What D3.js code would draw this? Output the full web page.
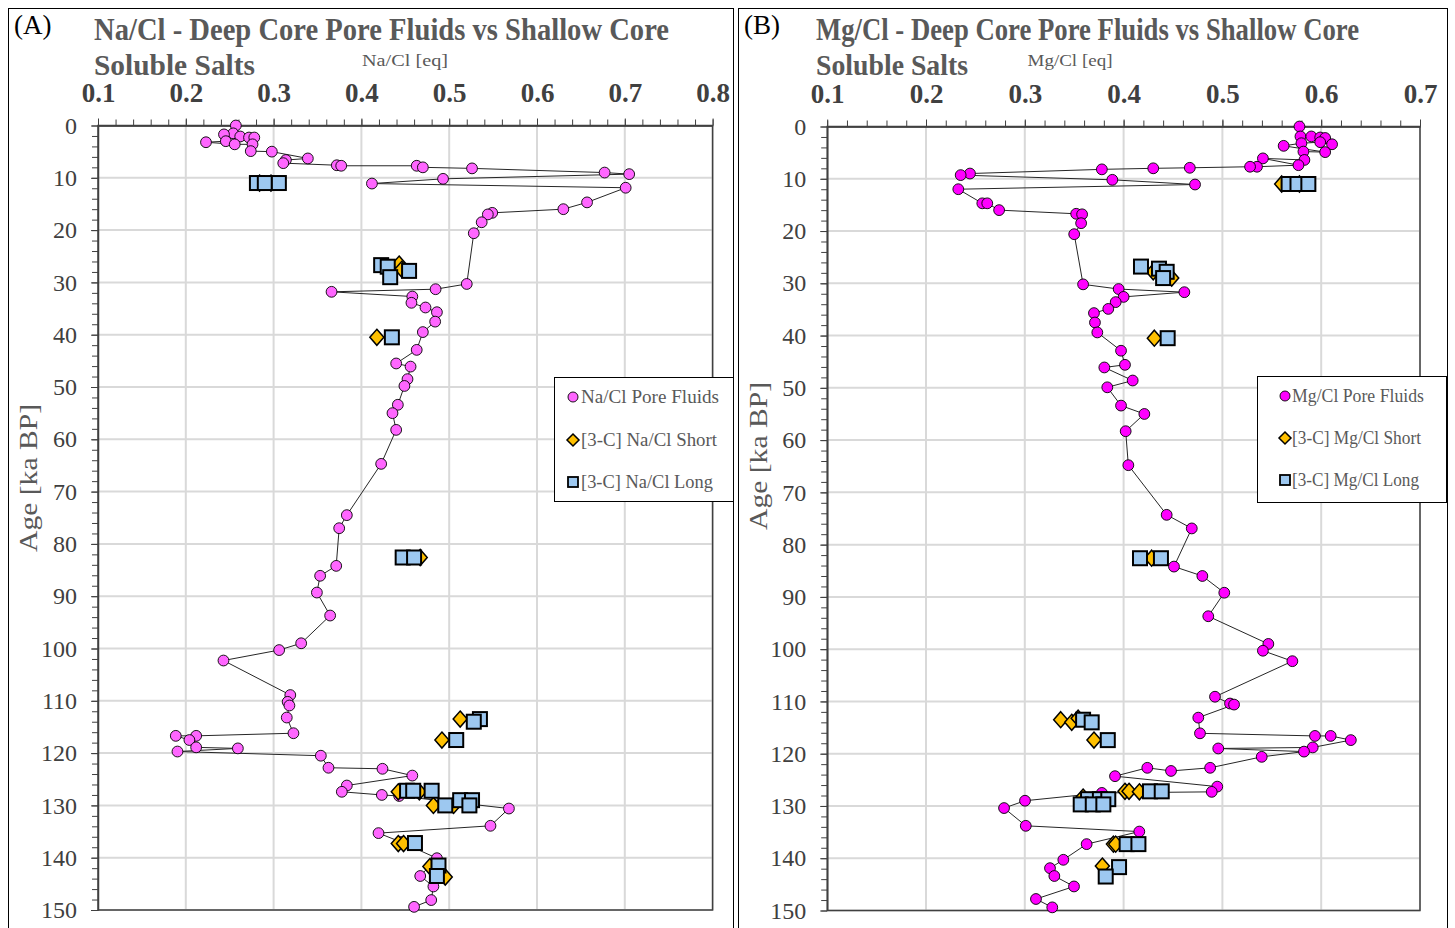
<!DOCTYPE html>
<html>
<head>
<meta charset="utf-8">
<script src="https://d3js.org/d3.v7.min.js"></script>
<style>
body { margin: 0; background: #fff; }
svg { font-family: "Liberation Serif", serif; }
.grid line { stroke: #d9d9d9; stroke-width: 2; }
.axis path, .axis line { stroke: #404040; }
.axis text { fill: #404040; font-family: "Liberation Serif", serif; }
</style>
</head>
<body>
<div id="chart"></div>
<script>
// ---- Panel A : Na/Cl ----
var naPoreAge = [0, 1.5, 1.7, 2.1, 2.3, 2.3, 3.0, 3.2, 3.6, 3.6, 4.9, 5.0, 6.3, 6.6, 7.2, 7.6, 7.7, 7.7, 8.0, 8.2,
  9.0, 9.3, 10.2, 11.1, 11.9, 14.7, 16.0, 16.7, 17.0, 18.5, 20.6, 30.3, 31.3, 31.8, 32.7, 33.9, 34.8, 35.7, 37.5, 39.5,
  42.9, 45.5, 46.1, 48.5, 49.8, 53.4, 55.0, 58.2, 64.7, 74.5, 77.0, 84.2, 86.1, 89.3, 93.7, 99.0, 100.3, 102.3, 108.9, 110.2,
  110.9, 113.2, 116.2, 116.7, 116.7, 117.5, 118.9, 119.1, 119.7, 120.5, 122.8, 123.0, 124.3, 126.2, 127.4, 128.0, 128.2, 130.6, 133.9, 135.3,
  137.0, 140.1, 143.5, 145.5, 148.1, 149.4];
var naPoreVal = [0.257, 0.254, 0.2435, 0.262, 0.272, 0.278, 0.2456, 0.223, 0.2557, 0.276, 0.274, 0.298, 0.339, 0.314, 0.311, 0.372, 0.377, 0.463, 0.470, 0.526,
  0.677, 0.705, 0.493, 0.412, 0.701, 0.657, 0.630, 0.549, 0.544, 0.537, 0.528, 0.520, 0.4845, 0.366, 0.458, 0.457, 0.473, 0.486, 0.484, 0.470,
  0.463, 0.4396, 0.456, 0.4525, 0.449, 0.4415, 0.4354, 0.4396, 0.4225, 0.3834, 0.3747, 0.3713, 0.353, 0.3493, 0.3644, 0.3314, 0.3063, 0.2429, 0.319, 0.316,
  0.318, 0.315, 0.3226, 0.2118, 0.1886, 0.2041, 0.2118, 0.2593, 0.1905, 0.3538, 0.3625, 0.424, 0.458, 0.3834, 0.3777, 0.4233, 0.443, 0.568, 0.547, 0.4195,
  0.445, 0.486, 0.467, 0.482, 0.4795, 0.460];
var naShortAge = [11.0, 11.0, 26.5, 27.5, 40.5, 82.6, 113.5, 117.5, 127.4, 127.4, 130.0, 130.0, 137.3, 137.3, 141.7, 143.7];
var naShortVal = [0.284, 0.297, 0.443, 0.446, 0.4176, 0.467, 0.5125, 0.4917, 0.442, 0.466, 0.482, 0.505, 0.442, 0.448, 0.478, 0.4955];
var naLongAge = [11.0, 11.0, 11.0, 26.7, 27.0, 27.8, 29.0, 40.5, 82.6, 82.6, 113.5, 114.0, 117.5, 127.2, 127.2, 127.2, 129.0, 129.0, 130.0, 130.0, 137.2, 141.5, 143.5];
var naLongVal = [0.281, 0.290, 0.306, 0.4225, 0.430, 0.4543, 0.4328, 0.4347, 0.447, 0.460, 0.535, 0.528, 0.508, 0.452, 0.459, 0.480, 0.5125, 0.526, 0.4955, 0.523, 0.461, 0.4878, 0.486];
var naXTicks = [0.1, 0.2, 0.3, 0.4, 0.5, 0.6, 0.7, 0.8];

// ---- Panel B : Mg/Cl ----
var mgPoreAge = [0, 1.9, 1.9, 2.1, 2.2, 3.4, 3.0, 3.2, 3.7, 4.9, 4.8, 6.4, 6.1, 7.4, 7.7, 7.7, 7.9, 8.0, 8.2, 9.0,
  9.3, 10.2, 11.1, 12.0, 14.7, 14.7, 16.0, 16.7, 16.8, 18.5, 20.6, 30.2, 31.1, 31.7, 32.6, 33.6, 34.9, 35.7, 37.5, 39.4,
  42.9, 45.6, 46.1, 48.6, 49.9, 53.4, 55.0, 58.3, 64.8, 74.3, 76.9, 84.2, 86.0, 89.2, 93.7, 99.0, 100.3, 102.3, 109.1, 110.4,
  110.6, 113.1, 116.1, 116.6, 116.6, 117.4, 118.8, 119.0, 119.6, 120.6, 122.7, 123.3, 122.7, 124.3, 126.3, 127.3, 127.5, 129.0, 130.4, 133.8,
  134.9, 137.3, 140.3, 141.9, 143.4, 145.4, 147.8, 149.4];
var mgPoreVal = [0.578, 0.579, 0.590, 0.599, 0.604, 0.611, 0.599, 0.580, 0.562, 0.604, 0.582, 0.583, 0.541, 0.577, 0.535, 0.528, 0.467, 0.430, 0.378, 0.2445,
  0.2351, 0.3886, 0.4723, 0.2327, 0.257, 0.262, 0.274, 0.352, 0.358, 0.357, 0.350, 0.359, 0.395, 0.4615, 0.400, 0.392, 0.3845, 0.370, 0.371, 0.3734,
  0.3974, 0.4014, 0.3805, 0.4092, 0.3835, 0.3974, 0.421, 0.4021, 0.4048, 0.4436, 0.469, 0.451, 0.4797, 0.5019, 0.4857, 0.5465, 0.541, 0.5708, 0.4925, 0.5077,
  0.5118, 0.4756, 0.4773, 0.5937, 0.6096, 0.630, 0.5914, 0.4958, 0.5826, 0.5398, 0.4876, 0.448, 0.424, 0.3913, 0.4948, 0.4892, 0.378, 0.3002, 0.279, 0.301,
  0.4159, 0.3626, 0.339, 0.3255, 0.3299, 0.3498, 0.3113, 0.3278];
var mgShortAge = [11.0, 11.0, 27.8, 29.0, 40.5, 82.6, 113.5, 114.0, 113.2, 117.4, 127.2, 127.2, 127.3, 128.3, 137.3, 137.3, 141.5];
var mgShortVal = [0.560, 0.578, 0.430, 0.4487, 0.4311, 0.4284, 0.3363, 0.3475, 0.354, 0.370, 0.4014, 0.4055, 0.416, 0.359, 0.3897, 0.392, 0.3785];
var mgLongAge = [11.0, 11.0, 11.0, 26.8, 27.2, 27.8, 29.0, 40.5, 82.6, 82.6, 113.5, 114.0, 117.4, 127.2, 127.2, 128.7, 128.7, 128.7, 129.7, 129.7, 129.7, 137.3, 137.3, 141.7, 143.5];
var mgLongVal = [0.567, 0.576, 0.587, 0.4176, 0.4358, 0.4436, 0.440, 0.4446, 0.4166, 0.4378, 0.359, 0.3677, 0.384, 0.4267, 0.4386, 0.364, 0.376, 0.3845, 0.3566, 0.3688, 0.3795, 0.4031, 0.415, 0.3954, 0.3819];
var mgXTicks = [0.1, 0.2, 0.3, 0.4, 0.5, 0.6, 0.7];

var ageTicks = [0, 10, 20, 30, 40, 50, 60, 70, 80, 90, 100, 110, 120, 130, 140, 150];

var svg = d3.select("#chart").append("svg")
  .attr("width", 1455)
  .attr("height", 928);

function zip(a, v) { return a.map(function(d, i) { return {age: d, val: v[i]}; }); }

var diamond = "M0,-8L7,0L0,8L-7,0Z";

function drawPanel(p) {
  var g = svg.append("g");

  // panel border
  g.append("rect")
    .attr("x", p.box[0] + 0.5).attr("y", 8.5)
    .attr("width", p.box[1] - p.box[0]).attr("height", 960)
    .attr("fill", "none").attr("stroke", "#000").attr("stroke-width", 1);

  var x = d3.scaleLinear().domain([p.xTicks[0], p.xTicks[p.xTicks.length - 1]]).range(p.xr);
  var y = d3.scaleLinear().domain([0, 150]).range(p.yr);

  // grid
  g.append("g").attr("class", "grid").selectAll("line.v")
    .data(p.xTicks.slice(1)).enter().append("line")
    .attr("x1", d => x(d)).attr("x2", d => x(d))
    .attr("y1", p.yr[0]).attr("y2", p.yr[1]);
  g.append("g").attr("class", "grid").selectAll("line.h")
    .data(ageTicks.slice(1)).enter().append("line")
    .attr("x1", p.xr[0]).attr("x2", p.xr[1])
    .attr("y1", d => y(d)).attr("y2", d => y(d));

  // frame
  g.append("rect")
    .attr("x", p.xr[0]).attr("y", p.yr[0])
    .attr("width", p.xr[1] - p.xr[0]).attr("height", p.yr[1] - p.yr[0])
    .attr("fill", "none").attr("stroke", "#404040").attr("stroke-width", 1.5);

  // axes
  var step = 0.02;
  var minorX = d3.range(p.xTicks[0], p.xTicks[p.xTicks.length - 1] + 1e-9, step);
  g.append("g").attr("class", "axis")
    .attr("transform", "translate(0," + p.yr[0] + ")")
    .call(d3.axisTop(x).tickValues(minorX).tickFormat("").tickSize(6).tickSizeOuter(0));
  var top = g.append("g").attr("class", "axis")
    .attr("transform", "translate(0," + p.yr[0] + ")")
    .call(d3.axisTop(x).tickValues(p.xTicks).tickFormat(d3.format(".1f")).tickSize(7).tickSizeOuter(0).tickPadding(17));
  top.attr("font-family", null);
  top.selectAll("text").style("font-size", "27px").style("font-weight", "bold");
  top.select(".domain").attr("stroke-width", 1.5);

  g.append("g").attr("class", "axis")
    .attr("transform", "translate(" + p.xr[0] + ",0)")
    .call(d3.axisLeft(y).tickValues(d3.range(0, 151, 2)).tickFormat("").tickSize(6).tickSizeOuter(0));
  var left = g.append("g").attr("class", "axis")
    .attr("transform", "translate(" + p.xr[0] + ",0)")
    .call(d3.axisLeft(y).tickValues(ageTicks).tickSize(7).tickSizeOuter(0).tickPadding(14));
  left.attr("font-family", null);
  left.selectAll("text").style("font-size", "24px");
  left.select(".domain").attr("stroke-width", 1.5);

  // titles
  g.append("text").attr("x", p.box[0] + 6).attr("y", 34)
    .style("font-size", "27px").attr("fill", "#000").text(p.tag);
  g.append("text").attr("x", p.t1[0]).attr("y", 40)
    .attr("textLength", p.t1[1]).attr("lengthAdjust", "spacingAndGlyphs")
    .style("font-size", "31px").style("font-weight", "bold").attr("fill", "#595959")
    .text(p.title);
  g.append("text").attr("x", p.t1[0]).attr("y", 75)
    .attr("textLength", p.t2).attr("lengthAdjust", "spacingAndGlyphs")
    .style("font-size", "30px").style("font-weight", "bold").attr("fill", "#595959")
    .text("Soluble Salts");
  g.append("text").attr("x", p.xLab[0]).attr("y", 66).attr("text-anchor", "middle")
    .attr("textLength", p.xLab[1]).attr("lengthAdjust", "spacingAndGlyphs")
    .style("font-size", "17px").attr("fill", "#595959").text(p.xTitle);
  g.append("text")
    .attr("transform", "translate(" + p.yLab[0] + "," + p.yLab[1] + ") rotate(-90)")
    .attr("text-anchor", "middle").attr("textLength", 148).attr("lengthAdjust", "spacingAndGlyphs")
    .style("font-size", "26px").attr("fill", "#595959").text("Age [ka BP]");

  // pore fluids line + circles
  var pore = zip(p.poreAge, p.poreVal);
  var line = d3.line().x(d => x(d.val)).y(d => y(d.age));
  g.append("path").attr("d", line(pore))
    .attr("fill", "none").attr("stroke", "#262626").attr("stroke-width", 1);
  g.selectAll("circle.pore").data(pore).enter().append("circle")
    .attr("cx", d => x(d.val)).attr("cy", d => y(d.age)).attr("r", 5.4)
    .attr("fill", p.pink).attr("stroke", "#000").attr("stroke-width", 0.9);

  // short (diamonds)
  g.selectAll("path.short").data(zip(p.shortAge, p.shortVal)).enter().append("path")
    .attr("d", diamond)
    .attr("transform", d => "translate(" + x(d.val) + "," + y(d.age) + ")")
    .attr("fill", "#ffc000").attr("stroke", "#000").attr("stroke-width", 1.5);

  // long (squares)
  g.selectAll("rect.long").data(zip(p.longAge, p.longVal)).enter().append("rect")
    .attr("x", d => x(d.val) - 7).attr("y", d => y(d.age) - 7)
    .attr("width", 14).attr("height", 14)
    .attr("fill", "#9dc8f0").attr("stroke", "#000").attr("stroke-width", 2);

  // legend
  var L = p.legend;
  g.append("rect").attr("x", L.x0 + 0.5).attr("y", L.y0 + 0.5)
    .attr("width", L.x1 - L.x0).attr("height", L.y1 - L.y0)
    .attr("fill", "#fff").attr("stroke", "#000").attr("stroke-width", 1);
  g.append("circle").attr("cx", L.mx).attr("cy", L.rows[0]).attr("r", 5)
    .attr("fill", p.pink).attr("stroke", "#000").attr("stroke-width", 0.9);
  g.append("path").attr("d", "M0,-6L6,0L0,6L-6,0Z")
    .attr("transform", "translate(" + L.mx + "," + L.rows[1] + ")")
    .attr("fill", "#ffc000").attr("stroke", "#000").attr("stroke-width", 1.5);
  g.append("rect").attr("x", L.mx - 5).attr("y", L.rows[2] - 5).attr("width", 10).attr("height", 10)
    .attr("fill", "#9dc8f0").attr("stroke", "#000").attr("stroke-width", 1.8);
  L.labels.forEach(function(t, i) {
    g.append("text").attr("x", L.tx).attr("y", L.rows[i] + 6)
      .attr("textLength", L.widths[i]).attr("lengthAdjust", "spacingAndGlyphs")
      .style("font-size", "18px").attr("fill", "#595959").text(t);
  });
}

drawPanel({
  box: [8, 733], tag: "(A)",
  title: "Na/Cl - Deep Core Pore Fluids vs Shallow Core", t1: [94, 575], t2: 161,
  xTitle: "Na/Cl [eq]", xLab: [405, 86], yLab: [37, 478],
  xTicks: naXTicks, xr: [98, 712.6], yr: [125.5, 910],
  poreAge: naPoreAge, poreVal: naPoreVal, shortAge: naShortAge, shortVal: naShortVal,
  longAge: naLongAge, longVal: naLongVal, pink: "#ff66ff",
  legend: {x0: 554, y0: 377, x1: 733, y1: 501, mx: 573, tx: 581, rows: [397, 440, 482],
    labels: ["Na/Cl Pore Fluids", "[3-C] Na/Cl Short", "[3-C] Na/Cl Long"], widths: [138, 136, 132]}
});

drawPanel({
  box: [738, 1447], tag: "(B)",
  title: "Mg/Cl - Deep Core Pore Fluids vs Shallow Core", t1: [816, 543], t2: 152,
  xTitle: "Mg/Cl [eq]", xLab: [1070, 85], yLab: [767, 456],
  xTicks: mgXTicks, xr: [827.2, 1420], yr: [126.5, 910.5],
  poreAge: mgPoreAge, poreVal: mgPoreVal, shortAge: mgShortAge, shortVal: mgShortVal,
  longAge: mgLongAge, longVal: mgLongVal, pink: "#ff00ff",
  legend: {x0: 1257, y0: 376, x1: 1446, y1: 502, mx: 1285, tx: 1292, rows: [396, 438, 480],
    labels: ["Mg/Cl Pore Fluids", "[3-C] Mg/Cl Short", "[3-C] Mg/Cl Long"], widths: [132, 129, 127]}
});
</script>
</body>
</html>
